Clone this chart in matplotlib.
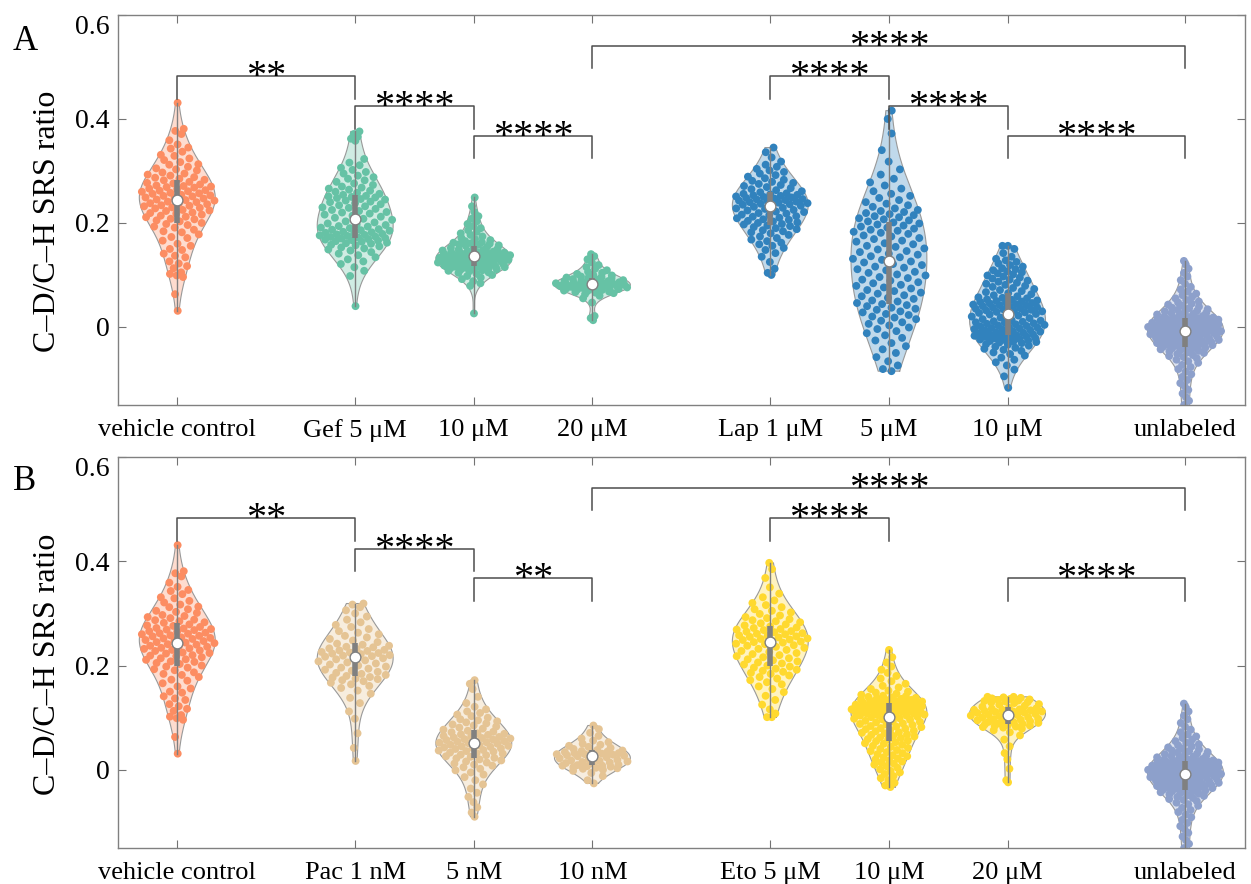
import numpy as np
import matplotlib
matplotlib.use("Agg")
import matplotlib.pyplot as plt

plt.rcParams["font.family"] = ["Liberation Serif", "DejaVu Serif"]

# values, in units of 0.001 (C-D/C-H SRS ratio)
vehicle_control = [
    31, 63, 96, 99, 102, 105, 113, 117, 122, 126, 134, 137, 141, 148, 150, 156, 160, 166, 171, 173,
    178, 182, 184, 187, 191, 193, 196, 198, 200, 203, 205,
    207, 208, 211, 212, 214, 216, 218, 219, 220, 223, 224, 225, 228, 229, 230, 232, 233, 234, 236,
    237, 238, 240, 241, 243, 244, 245, 247, 248, 249, 251, 252, 253, 254, 256, 257, 258, 260, 261,
    262, 263, 265, 266, 268, 269, 270, 271, 272, 274, 276,
    277, 279, 282, 283, 285, 287, 288, 291, 293, 295, 297, 301, 303, 305, 308, 312, 313, 317, 321,
    324, 329, 331, 337, 343, 345, 351, 359, 371, 377, 381, 431,
]
unlabeled = [
    -214, -198, -186, -176, -167, -158, -150, -142, -135, -128, -121, -114, -108, -102, -96, -91,
    -86, -81, -77, -73, -69, -66, -63, -60, -58, -56, -54, -52, -50, -49, -47, -46, -45, -43, -42,
    -41, -40, -39, -38, -37,
    -36, -35, -35, -34, -33, -32, -31, -31, -30, -29, -28, -28, -27, -26, -25, -24, -23, -23, -22,
    -21, -20, -19, -18, -18, -17, -16, -15, -14, -13, -13, -12, -11, -10, -10, -9, -8, -8, -7, -7,
    -6, -5, -5, -4,
    -4, -3, -2, -2, -1, 0, 0, 1, 2, 2, 3, 4, 4, 5, 6, 6, 7, 8, 8, 9, 10, 10, 11, 12, 12, 13, 14,
    14, 15, 16, 16, 17, 17, 18, 18, 19,
    20, 21, 22, 24, 25, 26, 27, 29, 30, 31, 33, 34, 36, 37, 39, 41, 43, 45, 47, 49, 52, 55, 58,
    61, 64, 68, 72, 77, 83, 90, 97, 104, 112, 120, 127,
]
gef_5 = [
    40, 98, 108, 115, 121, 126, 130, 134, 138, 141, 144, 147, 149, 151, 153, 155, 157, 158, 160,
    161, 162, 164, 165, 166, 167, 168, 169,
    170, 171, 172, 173, 174, 175, 176, 177, 178, 179, 180, 181, 182, 183, 185, 186, 187, 188, 190,
    191, 193, 194, 196, 197, 199, 201, 203, 206,
    208, 210, 212, 214, 216, 218, 220, 221, 223, 225, 227, 229, 230, 232, 234, 236, 238, 240, 241,
    243, 245, 246, 248, 249, 250, 251, 252, 254,
    256, 258, 260, 262, 264, 266, 268, 270, 273, 276, 279, 282, 285, 288, 291, 295, 298, 302, 306,
    311, 316, 323, 358, 362, 366, 371, 376,
]
gef_10 = [
    26, 79, 84, 88, 92, 95, 98, 100, 102, 104, 105, 107, 108, 109, 110, 111, 112, 113, 113, 114,
    115, 115, 116, 116, 117,
    118, 119, 119, 120, 121, 122, 122, 123, 124, 125, 125, 126, 127, 127, 128, 129, 129, 130, 131,
    131, 132, 133, 133, 134, 135,
    136, 136, 137, 138, 138, 139, 139, 140, 140, 141, 141, 142, 143, 143, 144, 145, 146, 147, 148,
    149, 150, 151, 152, 154, 156,
    157, 158, 159, 160, 161, 162, 163, 165, 167, 169, 171, 174, 177, 180, 183, 186, 190, 194, 198,
    203, 208, 213, 221, 232, 249,
]
gef_20 = [
    13, 17, 21, 47, 55, 60, 63, 65, 66, 67, 68, 69, 70, 71, 72,
    73, 73, 74, 75, 75, 76, 77, 77, 78, 78, 79, 80, 80, 81, 81, 82,
    83, 83, 84, 85, 85, 86, 87, 88, 88, 89, 90, 91, 92, 93, 94, 95,
    96, 97, 99, 100, 102, 104, 106, 109, 112, 115, 119, 124, 130, 136, 140,
]
lap_1 = [
    100, 104, 112, 125, 135, 142, 148, 152, 156, 159, 162, 165, 168, 171, 174, 177, 180, 182, 184,
    186, 188, 190, 192, 194, 195,
    197, 198, 200, 201, 203, 204, 206, 207, 209, 210, 212, 213, 215, 216, 218, 219, 221, 222, 224,
    225, 227, 228, 229, 231, 233,
    234, 235, 236, 237, 238, 239, 240, 241, 242, 243, 244, 245, 246, 247, 248, 249, 250, 251, 252,
    253, 254, 255, 256, 257, 259,
    261, 263, 265, 267, 269, 271, 273, 275, 277, 279, 281, 283, 286, 289, 292, 295, 298, 301, 304,
    308, 312, 318, 326, 336, 345,
]
lap_5 = [
    -85, -81, -74, -66, -58, -50, -43, -37, -31, -26, -21, -16, -12, -8, -4, -1, 3, 6, 9, 12, 15,
    18, 20, 23, 25, 28, 30, 33, 35, 37, 40, 42, 44,
    46, 49, 51, 54, 56, 59, 61, 64, 66, 69, 71, 74, 76, 79, 81, 84, 86, 89, 91, 94, 96, 99, 101,
    104, 106, 109, 111, 114, 116, 119, 121, 124, 126, 129, 131, 134,
    136, 139, 141, 144, 146, 149, 151, 154, 156, 159, 161, 164, 166, 169, 171, 174, 176, 179, 181,
    183, 185, 187, 189, 191, 193, 195, 197, 199, 201,
    203, 205, 207, 209, 211, 213, 215, 217, 219, 221, 223, 225, 228, 231, 234, 237, 240, 244,
    248, 252, 256, 261, 266, 272, 278, 285, 293, 303, 318, 340, 372, 400, 416,
]
lap_10 = [
    -117, -95, -82, -74, -68, -63, -59, -55, -52, -49, -46, -44, -42, -40, -38, -36, -34, -33, -31,
    -30, -29, -28, -27, -26, -25, -24, -23, -22, -21, -20, -19, -18, -17, -17, -16,
    -15, -14, -13, -12, -11, -10, -9, -8, -7, -6, -5, -4, -3, -2, -1, 0, 1, 2, 3, 4, 5, 6, 7, 8,
    9, 10, 11, 12, 13, 15, 17, 18, 20, 22, 24,
    25, 26, 27, 28, 29, 30, 31, 32, 33, 34, 35, 36, 37, 38, 39, 40, 41, 42, 43, 44, 45, 46, 47, 48,
    49, 50, 51, 52, 53, 55, 56, 57, 59, 61, 63,
    65, 67, 69, 71, 73, 75, 77, 79, 81, 83, 85, 87, 89, 91, 93, 95, 97, 99, 101, 103, 105, 107,
    109, 111, 113, 116, 119, 122, 125, 128, 131, 135, 142, 150, 156, 156,
]
pac_1 = [
    17, 42, 70, 98, 112, 128, 138, 146, 152, 157, 161, 164, 167, 170, 172, 174, 175, 177, 178,
    180, 182, 184, 186, 188, 190, 192, 194, 196, 198, 200, 202, 204, 206, 208, 210, 212, 214, 216,
    217, 218, 219, 220, 222, 223, 224, 225, 226, 228, 229, 230, 232, 233, 235, 236, 238, 240, 242,
    245, 248, 251, 254, 257, 260, 263, 266, 270, 274, 278, 283, 288, 294, 300, 306, 312, 317, 319,
]
pac_5 = [
    -90, -82, -72, -62, -52, -44, -36, -28, -20, -14, -9, -5, -1, 2, 5, 8, 10, 12, 14, 16, 18, 20,
    22, 23, 25, 26, 28, 29, 31, 32, 33, 35, 36, 37, 38, 40, 41, 42, 43, 44, 45, 46, 47, 48, 50,
    51, 52, 53, 54, 55, 56, 57, 58, 59, 60, 61, 62, 63, 64, 65, 67, 68, 69, 70, 72, 73, 75, 77,
    79, 81, 83, 85, 87, 89, 91, 93, 95, 97, 100, 103, 106, 109, 112, 116, 121, 128, 140, 155, 165, 172,
]
pac_10 = [
    -26, -20, -12, -6, -2, 0, 2, 3, 4, 5, 6, 7, 8, 8,
    9, 10, 12, 13, 14, 15, 16, 17, 18, 19, 20, 22, 24, 26,
    27, 28, 28, 29, 30, 30, 31, 32, 32, 33, 34, 35, 36, 37,
    38, 40, 42, 44, 46, 48, 50, 53, 56, 60, 65, 71, 78, 85,
]
eto_5 = [
    101, 101, 108, 116, 125, 134, 142, 149, 155, 160, 164, 168, 172, 175, 178, 181, 184, 186, 188,
    190, 192, 194, 196, 198,
    200, 202, 204, 206, 208, 210, 212, 214, 216, 218, 220, 222, 224, 226, 228, 230, 232, 234, 236,
    238, 239, 241, 242, 244,
    245, 246, 247, 249, 250, 251, 252, 254, 255, 256, 257, 258, 260, 261, 262, 264, 265, 266, 268,
    269, 270, 272, 273, 275,
    277, 279, 281, 283, 285, 287, 289, 291, 293, 296, 299, 302, 305, 308, 312, 316, 320, 325, 331,
    338, 350, 368, 385, 397,
]
eto_10 = [
    -33, -30, -25, -20, -16, -12, -8, -5, -2, 1, 4, 7, 10, 12, 14, 16, 18, 20, 22, 24, 26, 28, 30,
    32, 34, 36, 38, 40, 42, 44, 46, 48, 50, 51, 53,
    55, 56, 58, 59, 61, 62, 64, 65, 67, 68, 70, 71, 72, 74, 75, 76, 78, 79, 80, 82, 83, 84, 86, 87,
    88, 89, 91, 92, 93, 94, 96, 97, 98, 99, 101,
    102, 103, 104, 104, 105, 106, 107, 108, 108, 109, 110, 111, 112, 112, 113, 114, 115, 115, 116,
    117, 118, 118, 119, 120, 120, 121, 122, 122, 123, 124, 124, 125, 126, 126, 127,
    128, 129, 130, 130, 131, 132, 133, 134, 134, 135, 136, 137, 138, 139, 140, 141, 142, 144, 146,
    148, 150, 152, 155, 158, 161, 165, 170, 175, 180, 186, 192, 198, 206, 216, 230,
]
eto_20 = [
    -24, -20, 2, 20, 32, 45, 58, 66, 72, 76, 79, 81, 82, 83, 84, 85,
    86, 87, 88, 89, 90, 91, 92, 93, 94, 95, 96, 97, 98, 99, 100, 101, 103,
    104, 105, 106, 107, 108, 109, 110, 111, 112, 112, 113, 114, 115, 115, 116, 117, 118,
    119, 121, 123, 125, 126, 128, 129, 130, 131, 132, 133, 134, 135, 136, 137, 138, 139, 140, 140,
]

labels_a = ["vehicle control", "Gef 5 \u03bcM", "10 \u03bcM", "20 \u03bcM",
            "Lap 1 \u03bcM", "5 \u03bcM", "10 \u03bcM", "unlabeled"]
labels_b = ["vehicle control", "Pac 1 nM", "5 nM", "10 nM",
            "Eto 5 \u03bcM", "10 \u03bcM", "20 \u03bcM", "unlabeled"]
groups_a = [vehicle_control, gef_5, gef_10, gef_20, lap_1, lap_5, lap_10, unlabeled]
groups_b = [vehicle_control, pac_1, pac_5, pac_10, eto_5, eto_10, eto_20, unlabeled]

c_veh, c_gef, c_lap, c_unl = "#FC8D62", "#66C2A5", "#3182BD", "#8DA0CB"
c_pac, c_eto = "#E5C494", "#FFD92F"
colors_a = [c_veh, c_gef, c_gef, c_gef, c_lap, c_lap, c_lap, c_unl]
colors_b = [c_veh, c_pac, c_pac, c_pac, c_eto, c_eto, c_eto, c_unl]

positions = [1, 2.5, 3.5, 4.5, 6, 7, 8, 9.5]

# significance brackets: (left index, right index, bar height, leg bottom, stars)
brackets_a = [(0, 1, 0.483, 0.438, "**"), (1, 2, 0.424, 0.381, "****"),
              (2, 3, 0.367, 0.324, "****"), (3, 7, 0.540, 0.498, "****"),
              (4, 5, 0.483, 0.438, "****"), (5, 6, 0.424, 0.381, "****"),
              (6, 7, 0.367, 0.324, "****")]
brackets_b = [(0, 1, 0.483, 0.438, "**"), (1, 2, 0.424, 0.381, "****"),
              (2, 3, 0.367, 0.324, "**"), (3, 7, 0.540, 0.498, "****"),
              (4, 5, 0.483, 0.438, "****"), (6, 7, 0.367, 0.324, "****")]

WIDTH = 0.32
GOLDEN = 0.6180339887


def kde(data, grid):
    # matlab ksdensity style bandwidth, a bit wider to match the smooth outlines
    sig = np.median(np.abs(data - np.median(data))) / 0.6745
    bw = 1.5 * sig * (4 / (3 * len(data))) ** 0.2
    z = (grid[:, None] - data[None, :]) / bw
    return np.exp(-0.5 * z ** 2).sum(axis=1) / (len(data) * bw * np.sqrt(2 * np.pi))


def violin(ax, pos, values, color):
    data = np.asarray(values, dtype=float) / 1000
    grid = np.linspace(data.min(), data.max(), 200)
    dens = kde(data, grid)
    half = dens / dens.max() * WIDTH
    ax.fill(np.r_[pos + half, (pos - half)[::-1]], np.r_[grid, grid[::-1]],
            facecolor=color, alpha=0.3, edgecolor="none", zorder=1)
    ax.plot(np.r_[pos + half, (pos - half)[::-1], pos + half[0]],
            np.r_[grid, grid[::-1], grid[0]], color="0.6", lw=0.8, zorder=1.5)

    u = 2 * ((np.arange(len(data)) + 1) * GOLDEN % 1) - 1
    jit = np.interp(data, grid, half) * u
    ax.scatter(pos + jit, data, s=32, color=color, edgecolors="none", zorder=2)

    q1, med, q3 = np.percentile(data, [25, 50, 75])
    ax.plot([pos, pos], [data.min(), data.max()], color="0.5", lw=1, zorder=3)
    ax.plot([pos, pos], [q1, q3], color="0.5", lw=4, solid_capstyle="butt", zorder=3)
    ax.scatter([pos], [med], s=60, color="white", edgecolors="0.5", linewidths=1, zorder=4)


def panel(ax, groups, colors, labels, brackets):
    for pos, vals, col in zip(positions, groups, colors):
        violin(ax, pos, vals, col)
    for i, j, top, leg, stars in brackets:
        x0, x1 = positions[i], positions[j]
        ax.plot([x0, x0, x1, x1], [leg, top, top, leg], color="0.3", lw=1.1, zorder=5)
        ax.text((x0 + x1) / 2, top - 0.021, stars, ha="center", va="baseline",
                fontsize=29, zorder=6)
    ax.set_xlim(0.5, 10)
    ax.set_ylim(-0.15, 0.6)
    ax.set_xticks(positions)
    ax.set_xticklabels(labels, fontsize=19)
    ax.set_yticks([0, 0.2, 0.4, 0.6])
    ax.set_yticklabels(["0", "0.2", "0.4", "0.6"], fontsize=20)
    ax.get_yticklabels()[-1].set_va("top")
    ax.tick_params(direction="in", length=6, color="0.45", top=True, right=True,
                   labeltop=False, labelright=False)
    ax.tick_params(axis="x", pad=10)
    ax.tick_params(axis="y", pad=6)
    for sp in ax.spines.values():
        sp.set_color("0.5")
        sp.set_linewidth(1)
    ax.set_ylabel("C\u2013D/C\u2013H SRS ratio", fontsize=23)
    ax.yaxis.set_label_coords(-0.05, 0.47)


fig = plt.figure(figsize=(12.51, 8.84), dpi=100)
ax_a = fig.add_axes([0.0943, 0.5419, 0.9007, 0.4412])
ax_b = fig.add_axes([0.0943, 0.0407, 0.9007, 0.4423])
panel(ax_a, groups_a, colors_a, labels_a, brackets_a)
panel(ax_b, groups_b, colors_b, labels_b, brackets_b)
fig.text(25 / 1251, 1 - 42 / 884, "A", ha="center", va="center", fontsize=25)
fig.text(25 / 1251, 1 - 482 / 884, "B", ha="center", va="center", fontsize=25)

fig.savefig("out.png", dpi=100)
